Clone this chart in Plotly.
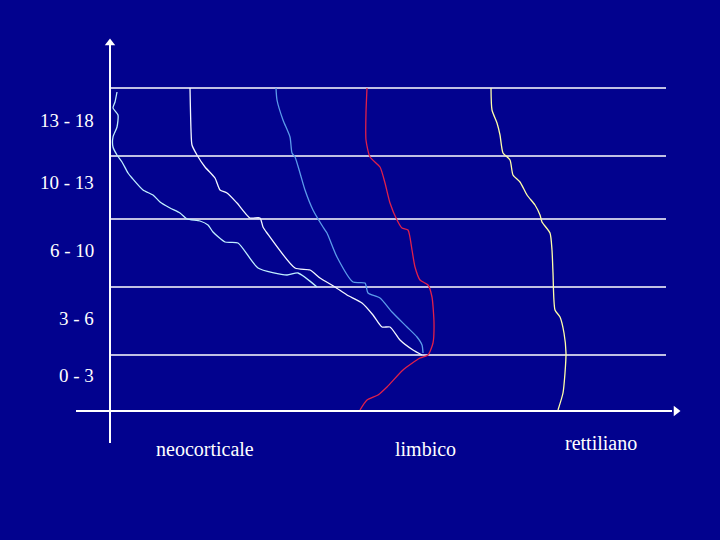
import plotly.graph_objects as go

BG = "#02028E"

# Age bands (bottom to top) and their boundary heights above the x-axis
band_labels = ["0 - 3", "3 - 6", "6 - 10", "10 - 13", "13 - 18"]
band_bounds = [0, 56, 124, 192, 255, 323]

# Brain-system categories along the x-axis
categories = ["neocorticale", "limbico", "rettiliano"]
category_x = [95, 315, 491]

# Curves: x position vs height
curveA_x = [7, 5, 3, 8, 7, 3, 3, 7, 12, 18, 22, 33, 43, 50, 60, 70, 77, 90, 98, 103, 115, 128, 148, 177, 188, 207]
curveA_y = [319, 309, 303, 296, 284, 274, 264, 256, 249, 238, 233, 221, 216, 209, 203, 198, 192, 190, 186, 179, 169, 168, 143, 136, 138, 124]

curveB_x = [80, 81, 82, 87, 95, 105, 110, 117, 127, 140, 150, 153, 157, 185, 200, 210, 225, 237, 252, 263, 272, 280, 290, 303, 312]
curveB_y = [323, 281, 266, 256, 244, 233, 221, 218, 208, 193, 193, 184, 178, 143, 141, 133, 124, 116, 108, 96, 84, 84, 71, 61, 56]

curveC_x = [166, 167, 173, 180, 182, 185, 190, 195, 203, 213, 217, 227, 243, 255, 258, 270, 282, 297, 307, 312, 313]
curveC_y = [323, 311, 291, 274, 258, 254, 238, 221, 201, 184, 178, 154, 129, 128, 118, 113, 99, 84, 74, 66, 58]

limbic_x = [257, 256, 256, 260, 270, 275, 280, 287, 292, 298, 302, 305, 310, 318, 322, 324, 323, 318, 310, 293, 277, 268, 257, 250]
limbic_y = [323, 298, 271, 254, 244, 228, 208, 191, 183, 181, 161, 144, 131, 126, 114, 88, 68, 56, 53, 41, 24, 16, 11, 1]

reptile_x = [381, 382, 387, 390, 393, 400, 403, 410, 417, 425, 430, 432, 440, 442, 443, 445, 450, 454, 456, 455, 453, 448]
reptile_y = [323, 301, 288, 276, 258, 251, 236, 229, 216, 206, 196, 189, 178, 161, 138, 101, 94, 78, 58, 38, 18, 1]

fig = go.Figure()

X_MIN, X_MAX = -110, 610
Y_MIN, Y_MAX = -129, 411

# Band boundary lines
for b in band_bounds[1:]:
    fig.add_shape(type="line", x0=0, x1=556, y0=b, y1=b,
                  line=dict(color="white", width=1.5), layer="below")

# Axes
fig.add_shape(type="line", x0=-34, x1=562, y0=0, y1=0, line=dict(color="white", width=2))
fig.add_shape(type="line", x0=0, x1=0, y0=-32, y1=366, line=dict(color="white", width=2))
fig.add_trace(go.Scatter(x=[0], y=[368], mode="markers",
                         marker=dict(symbol="triangle-up", size=9, color="white"),
                         hoverinfo="skip", showlegend=False))
fig.add_trace(go.Scatter(x=[566], y=[0], mode="markers",
                         marker=dict(symbol="triangle-right", size=9, color="white"),
                         hoverinfo="skip", showlegend=False))

curves = [
    (curveA_x, curveA_y, "#BFEFFF"),
    (curveB_x, curveB_y, "#F4F8FF"),
    (curveC_x, curveC_y, "#5B9BEA"),
    (limbic_x, limbic_y, "#E0204A"),
    (reptile_x, reptile_y, "#FFFFA8"),
]
for cx, cy, col in curves:
    fig.add_trace(go.Scatter(x=cx, y=cy, mode="lines",
                             line=dict(color=col, width=1.3, shape="spline", smoothing=0.6),
                             hoverinfo="skip", showlegend=False))

# Band labels
offsets = [8, 3, 3, 5, 2]
for lab, lo, hi, off in zip(band_labels, band_bounds[:-1], band_bounds[1:], offsets):
    fig.add_annotation(x=-14, y=(lo + hi) / 2 + off, text=lab, showarrow=False,
                       xanchor="right", yanchor="middle",
                       font=dict(family="Liberation Serif", size=19, color="white"))

# Category labels
cat_y = [-38, -38, -32]
for lab, xx, yy in zip(categories, category_x, cat_y):
    fig.add_annotation(x=xx, y=yy, text=lab, showarrow=False,
                       xanchor="center", yanchor="middle",
                       font=dict(family="Liberation Serif", size=20, color="white"))

fig.update_layout(
    width=720, height=540,
    margin=dict(l=0, r=0, t=0, b=0),
    paper_bgcolor=BG, plot_bgcolor=BG,
    xaxis=dict(range=[X_MIN, X_MAX], visible=False, fixedrange=True),
    yaxis=dict(range=[Y_MIN, Y_MAX], visible=False, fixedrange=True),
    showlegend=False,
)

fig.write_html("out.html",
               post_script="document.body.style.margin='0';document.body.style.background='" + BG + "';",
               config={"displayModeBar": False})
